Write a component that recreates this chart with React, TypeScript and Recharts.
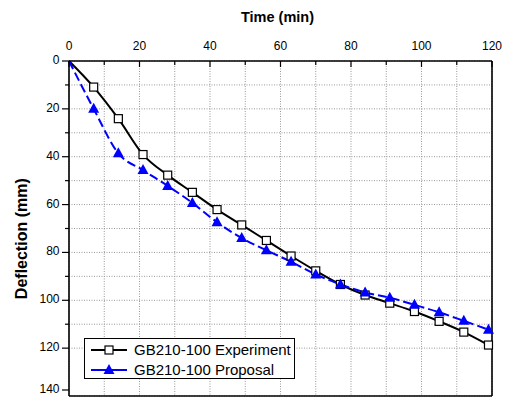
import { LineChart, Line, XAxis, YAxis, CartesianGrid, Label } from 'recharts'

const TIME = [0, 7, 14, 21, 28, 35, 42, 49, 56, 63, 70, 77, 84, 91, 98, 105, 112, 119]
const EXPERIMENT = [0, 10.9, 24.1, 39.1, 47.7, 54.9, 62.1, 68.5, 75.0, 81.5, 87.7, 93.4, 97.8, 101.2, 104.7, 108.8, 113.3, 118.7]
const PROPOSAL = [0, 20.0, 38.6, 45.6, 52.2, 59.3, 67.4, 74.0, 79.1, 83.9, 89.2, 93.4, 96.7, 98.9, 101.9, 105.0, 108.6, 112.3]
const X_TICKS = [0, 10, 20, 30, 40, 50, 60, 70, 80, 90, 100, 110, 120]
const Y_TICKS = [0, 10, 20, 30, 40, 50, 60, 70, 80, 90, 100, 110, 120, 130, 140]
const RIGHT_TICKS = [0, 14, 28, 42, 56, 70, 84, 98, 112, 126, 140]
const SERIES_NAMES = ['GB210-100 Experiment', 'GB210-100 Proposal']

const FONT = 'Arial, "Liberation Sans", sans-serif'
const PLOT_LEFT = 69
const PLOT_TOP = 61
const PLOT_RIGHT = 492

const data = TIME.map((t, i) => ({
  time: t,
  experiment: EXPERIMENT[i],
  proposal: PROPOSAL[i],
}))

const TopTick = ({ x, payload }: any) => {
  const major = payload.value % 20 === 0
  return (
    <g>
      <line x1={x} x2={x} y1={PLOT_TOP} y2={PLOT_TOP + (major ? 6 : 4)} stroke='#000' strokeWidth={1.2} />
      {major && (
        <text x={x} y={50} textAnchor='middle' fontSize={12} fontFamily={FONT} fill='#000'>
          {payload.value}
        </text>
      )}
    </g>
  )
}

const LeftTick = ({ y, payload }: any) => {
  const major = payload.value % 20 === 0
  return (
    <g>
      <line x1={PLOT_LEFT - (major ? 7 : 4)} x2={PLOT_LEFT} y1={y} y2={y} stroke='#000' strokeWidth={1.2} />
      {major && (
        <text x={59.5} y={y + 3} textAnchor='end' fontSize={12} fontFamily={FONT} fill='#000'>
          {payload.value}
        </text>
      )}
    </g>
  )
}

const RightTick = ({ y }: any) => (
  <line x1={PLOT_RIGHT} x2={PLOT_RIGHT + 2} y1={y} y2={y} stroke='#000' strokeWidth={1.2} />
)

const SquareDot = ({ cx, cy, index }: any) => {
  if (index === 0) return <g key={`sq-${index}`} />
  return (
    <rect key={`sq-${index}`} x={cx - 4} y={cy - 4} width={8} height={8} fill='#fff' stroke='#000' strokeWidth={1.2} />
  )
}

const TriangleDot = ({ cx, cy, index }: any) => {
  if (index === 0) return <g key={`tr-${index}`} />
  return (
    <polygon
      key={`tr-${index}`}
      points={`${cx},${cy - 6} ${cx + 5.5},${cy + 4} ${cx - 5.5},${cy + 4}`}
      fill='#0000ff'
    />
  )
}

const LegendBox = () => (
  <div
    style={{
      position: 'absolute',
      left: 84,
      top: 338,
      width: 209,
      height: 39,
      border: '1px solid #000',
      background: '#fff',
      fontFamily: FONT,
      fontSize: 15,
      color: '#000',
      lineHeight: '17px',
    }}
  >
    <div style={{ display: 'flex', alignItems: 'center', height: 21 }}>
      <svg width={44} height={14} style={{ marginLeft: 5 }}>
        <line x1={1} x2={37} y1={7} y2={7} stroke='#000' strokeWidth={2} />
        <rect x={15} y={3} width={8} height={8} fill='#fff' stroke='#000' strokeWidth={1.2} />
      </svg>
      <span>{SERIES_NAMES[0]}</span>
    </div>
    <div style={{ display: 'flex', alignItems: 'center', height: 21, marginTop: -1 }}>
      <svg width={44} height={14} style={{ marginLeft: 5 }}>
        <line x1={1} x2={37} y1={7} y2={7} stroke='#0000ff' strokeWidth={2} />
        <polygon points='19,1 24.5,11 13.5,11' fill='#0000ff' />
      </svg>
      <span>{SERIES_NAMES[1]}</span>
    </div>
  </div>
)

export default function App() {
  return (
    <div style={{ position: 'absolute', left: 0, top: 0, width: 507, height: 399 }}>
      <LineChart width={507} height={399} data={data} margin={{ top: 0, right: 0, bottom: 0, left: 0 }}>
        <CartesianGrid stroke='#999' strokeDasharray='1 1.5' strokeWidth={1} />
        <XAxis
          dataKey='time'
          type='number'
          orientation='top'
          domain={[0, 120]}
          ticks={X_TICKS}
          height={61}
          tickLine={false}
          tick={<TopTick />}
          axisLine={{ stroke: '#000', strokeWidth: 1.6 }}
        >
          <Label
            value='Time (min)'
            position='insideTop'
            offset={12}
            dx={-3}
            style={{ fontFamily: FONT, fontSize: 14.5, fontWeight: 'bold', fill: '#000' }}
          />
        </XAxis>
        <XAxis
          xAxisId='b'
          type='number'
          orientation='bottom'
          domain={[0, 120]}
          height={3}
          tick={false}
          tickLine={false}
          axisLine={{ stroke: '#000', strokeWidth: 1.6 }}
        />
        <YAxis
          type='number'
          reversed
          domain={[0, 140]}
          ticks={Y_TICKS}
          width={69}
          tickLine={false}
          tick={<LeftTick />}
          axisLine={{ stroke: '#000', strokeWidth: 1.6 }}
        >
          <Label
            content={() => (
              <text
                x={27}
                y={238.7}
                transform='rotate(-90, 27, 238.7)'
                textAnchor='middle'
                fontFamily={FONT}
                fontSize={16}
                fontWeight='bold'
                fill='#000'
              >
                Deflection (mm)
              </text>
            )}
          />
        </YAxis>
        <YAxis
          yAxisId='r'
          type='number'
          orientation='right'
          reversed
          domain={[0, 140]}
          ticks={RIGHT_TICKS}
          width={15}
          tickLine={false}
          tick={<RightTick />}
          axisLine={{ stroke: '#000', strokeWidth: 1.6 }}
        />
        <Line
          type='monotone'
          dataKey='experiment'
          name={SERIES_NAMES[0]}
          stroke='#000'
          strokeWidth={2}
          dot={(p: any) => <SquareDot key={`sq-${p.index}`} {...p} />}
          activeDot={false}
          isAnimationActive={false}
        />
        <Line
          type='monotone'
          dataKey='proposal'
          name={SERIES_NAMES[1]}
          stroke='#0000ff'
          strokeWidth={2}
          strokeDasharray='9 4'
          dot={(p: any) => <TriangleDot key={`tr-${p.index}`} {...p} />}
          activeDot={false}
          isAnimationActive={false}
        />
      </LineChart>
      <LegendBox />
    </div>
  )
}
